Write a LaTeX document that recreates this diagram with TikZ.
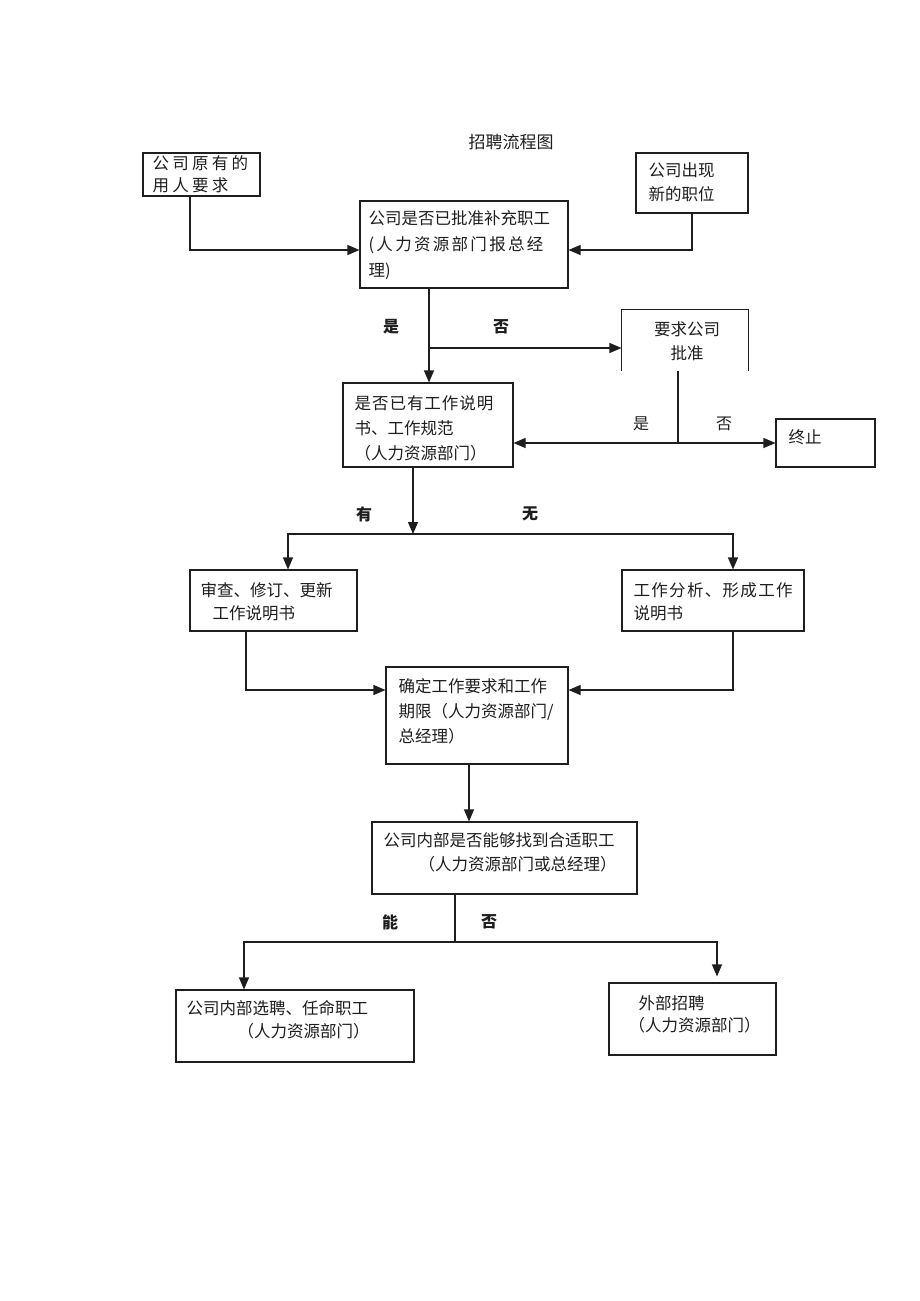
\documentclass[tikz,border=0pt]{standalone}
\usepackage{fontspec}
\setmainfont{Noto Sans CJK SC}
\usepackage{tikz}
\usetikzlibrary{arrows.meta, positioning, calc}
\definecolor{inkgray}{RGB}{30, 30, 30}

\begin{document}
\begin{tikzpicture}[x=1pt, y=-1pt, line width=1.1pt, draw=inkgray,
  box/.style 2 args={draw=inkgray, inner sep=0pt, minimum width=#1, minimum height=#2},
  txt/.style={anchor=north west, inner sep=0pt, align=left, text=inkgray, font=\fontsize{16.5}{25}\selectfont},
  lab/.style={inner sep=0pt, text=inkgray, font=\fontsize{16}{16}\selectfont\bfseries},
  arr/.style={-{Triangle[length=12pt, width=10pt]}}]
  \useasboundingbox[fill=white] (0,0) rectangle (920,1301);

  \node[text=inkgray, font=\fontsize{17}{17}\selectfont] (title) at (511,142) {招聘流程图};

  \node[box={117pt}{43pt}] (yuanyou) at (201.5,174.5) {};
  \node[txt, font=\fontsize{16.5}{22}\selectfont\addfontfeatures{LetterSpace=20}] (yuanyou-t) at (152,155) {公司原有的\\用人要求};
  \node[box={112pt}{60pt}] (xinzhi) at (692,183) {};
  \node[txt, font=\fontsize{16.5}{24}\selectfont] (xinzhi-t) at (648,162) {公司出现\\新的职位};
  \node[box={208pt}{87pt}] (pizhun) at (464,244.5) {};
  \node[txt, font=\fontsize{16.5}{26}\selectfont] (pizhun-t) at (368,210) {公司是否已批准补充职工\\{\addfontfeatures{LetterSpace=14}(人力资源部门报总经}\\理)};
  \node[minimum width=126pt, minimum height=60pt, inner sep=0pt] (yaoqiu) at (685,340) {};
  \node[txt, anchor=north, align=center, font=\fontsize{16.5}{24}\selectfont] (yaoqiu-t) at (687,321) {要求公司\\批准};
  \node[box={170pt}{84pt}] (shuoming) at (428,425) {};
  \node[txt] (shuoming-t) at (354,395) {{\addfontfeatures{LetterSpace=6}是否已有工作说明}\\书、工作规范\\（人力资源部门）};
  \node[box={99pt}{48pt}] (zhongzhi) at (825.5,443) {};
  \node[txt] (zhongzhi-t) at (788,429) {终止};
  \node[box={167pt}{61pt}] (shencha) at (273.5,600.5) {};
  \node[txt, font=\fontsize{16.5}{23}\selectfont] (shencha-t) at (200,582) {审查、修订、更新\\\hspace*{12pt}工作说明书};
  \node[box={182pt}{61pt}] (fenxi) at (713,600.5) {};
  \node[txt, font=\fontsize{16.5}{23}\selectfont] (fenxi-t) at (633,582) {{\addfontfeatures{LetterSpace=8}工作分析、形成工作}\\说明书};
  \node[box={182pt}{97pt}] (queding) at (477,715.5) {};
  \node[txt] (queding-t) at (398,678) {确定工作要求和工作\\期限（人力资源部门/\\总经理）};
  \node[box={265pt}{72pt}] (neibu) at (504.5,858) {};
  \node[txt, font=\fontsize{16.5}{24}\selectfont] (neibu-t) at (383,832) {公司内部是否能够找到合适职工\\\hspace*{35pt}（人力资源部门或总经理）};
  \node[box={238pt}{72pt}] (xuanpin) at (295,1026) {};
  \node[txt, font=\fontsize{16.5}{23}\selectfont] (xuanpin-t) at (186,1000) {公司内部选聘、任命职工\\\hspace*{51pt}（人力资源部门）};
  \node[box={167pt}{72pt}] (waibu) at (692.5,1019) {};
  \node[txt, font=\fontsize{16.5}{22}\selectfont] (waibu-t) at (628,995) {\hspace*{10pt}外部招聘\\（人力资源部门）};

  \node[lab] (shi-1) at (391,327) {是};
  \node[lab] (fou-1) at (501,327) {否};
  \node[lab, font=\fontsize{16}{16}\selectfont] (shi-2) at (641,424) {是};
  \node[lab, font=\fontsize{16}{16}\selectfont] (fou-2) at (724,424) {否};
  \node[lab] (you) at (364,514) {有};
  \node[lab] (wu) at (530,514) {无};
  \node[lab] (neng) at (390,922) {能};
  \node[lab] (fou-3) at (489,922) {否};

  \coordinate (fork1) at (429,348);
  \coordinate (fork2) at (678,443);
  \coordinate (fork3) at (413,534);
  \coordinate (fork4) at (455,942);

  \draw (yaoqiu.south west) -- (yaoqiu.north west) -- (yaoqiu.north east) -- (yaoqiu.south east);

  \draw[arr] ([xshift=-11.5pt]yuanyou.south) |- ([yshift=-5.5pt]pizhun.west);
  \draw[arr] (xinzhi.south) |- ([yshift=-5.5pt]pizhun.east);
  \draw[arr] ([xshift=-35pt]pizhun.south) -- ([xshift=-35pt]pizhun.south |- shuoming.north);
  \draw[arr] (fork1) -- (fork1 -| yaoqiu.west);
  \draw ([xshift=-7pt]yaoqiu.south) -- (fork2);
  \draw[arr] (fork2) -- (fork2 -| shuoming.east);
  \draw[arr] (fork2) -- (fork2 -| zhongzhi.west);
  \draw[arr] ([xshift=-15pt]shuoming.south) -- (fork3);
  \draw[arr] (fork3) -| ([xshift=14.5pt]shencha.north);
  \draw[arr] (fork3) -| ([xshift=20pt]fenxi.north);
  \draw[arr] ([xshift=-27.5pt]shencha.south) |- ([yshift=25.5pt]queding.west);
  \draw[arr] ([xshift=20pt]fenxi.south) |- ([yshift=25.5pt]queding.east);
  \draw[arr] ([xshift=-8pt]queding.south) -- ([xshift=-8pt]queding.south |- neibu.north);
  \draw ([xshift=-49.5pt]neibu.south) -- (fork4);
  \draw[arr] (fork4) -| ([xshift=-51pt]xuanpin.north);
  \draw[arr] (fork4) -| ($(waibu.north)+(24.5,-6)$);
\end{tikzpicture}
\end{document}
